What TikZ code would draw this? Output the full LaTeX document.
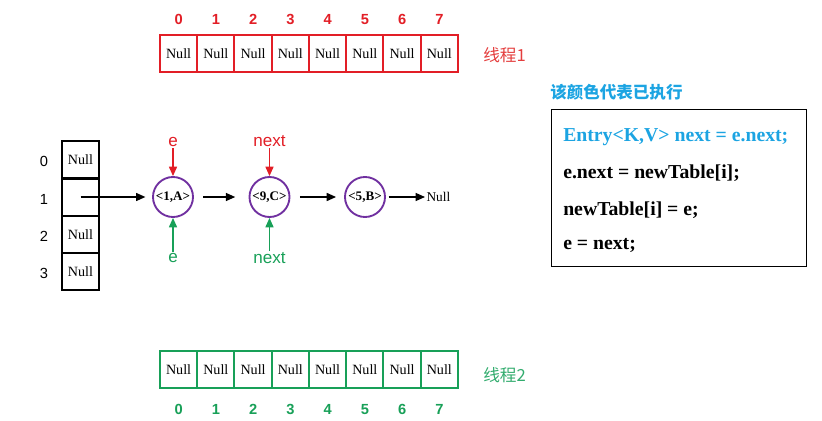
\documentclass[tikz,border=0pt]{standalone}
\usepackage{fontspec}
\setmainfont{Liberation Serif}
\setsansfont{Liberation Sans}
\newfontfamily\cjk{Noto Sans CJK SC}
\usetikzlibrary{arrows.meta}
\definecolor{tred}{RGB}{226,30,38}
\definecolor{tredl}{RGB}{228,62,62}
\definecolor{tgreen}{RGB}{24,160,88}
\definecolor{tgreenl}{RGB}{50,172,110}
\definecolor{tblue}{RGB}{28,164,226}
\definecolor{tpurple}{RGB}{112,48,160}
\tikzset{
  cell/.style={draw, line width=1.5pt, minimum width=27.94pt, minimum height=27.75pt, inner sep=0pt, font=\fontsize{10.6}{12}\selectfont},
  idx/.style={font=\sffamily\bfseries\fontsize{11}{13}\selectfont, inner sep=1pt, anchor=base},
  lidx/.style={font=\sffamily\fontsize{11}{13}\selectfont, inner sep=1pt, anchor=base},
  entry/.style={circle, draw=tpurple, line width=1.4pt, minimum size=30pt, inner sep=0pt, font=\bfseries\fontsize{9.8}{11}\selectfont},
  ptr/.style={font=\sffamily\fontsize{12.8}{15}\selectfont, inner sep=1pt},
  arr/.style={line width=1pt, -{Triangle[length=7pt,width=6pt]}},
  code/.style={anchor=west, inner sep=0pt, font=\bfseries\fontsize{14.8}{17}\selectfont},
  thr/.style={anchor=west, inner sep=0pt, font=\cjk\fontsize{12.5}{14}\selectfont}
}
\begin{document}
\begin{tikzpicture}[x=0.75pt, y=-0.75pt]
\useasboundingbox (0,0) rectangle (822,421);
% top array (thread 1)
\foreach \i in {0,...,7} {
  \node[cell, draw=tred] (t\i) at ({178.6+37.25*\i},53.5) {Null};
  \node[idx, text=tred] (ti\i) at ({178.6+37.25*\i},25) {\i};
}
\node[thr, text=tredl] (thr1) at (483,55) {线程1};
% bottom array (thread 2)
\foreach \i in {0,...,7} {
  \node[cell, draw=tgreen] (b\i) at ({178.6+37.25*\i},369.5) {Null};
  \node[idx, text=tgreen] (bi\i) at ({178.6+37.25*\i},414) {\i};
}
\node[thr, text=tgreenl] (thr2) at (483,375) {线程2};
% left table
\node[cell] (l0) at (80.5,159.5) {Null};
\node[cell] (l1) at (80.5,197) {};
\node[cell] (l2) at (80.5,234.5) {Null};
\node[cell] (l3) at (80.5,271.5) {Null};
\node[lidx] (li0) at (44,166) {0};
\node[lidx] (li1) at (44,204) {1};
\node[lidx] (li2) at (44,241) {2};
\node[lidx] (li3) at (44,278) {3};
% entries
\node[entry] (n1) at (173,197) {<1,A>};
\node[entry] (n2) at (269.5,197) {<9,C>};
\node[entry] (n3) at (365,197) {<5,B>};
\node[anchor=west, inner sep=1pt, font=\fontsize{10}{11}\selectfont] (nul) at (425,197) {Null};
\draw[arr, shorten >=5pt] (l1.center) -- (n1);
\draw[arr, shorten <=7pt, shorten >=10pt] (n1) -- (n2);
\draw[arr, shorten <=7pt, shorten >=6pt] (n2) -- (n3);
\draw[arr, shorten <=2pt] (n3) -- (nul);
% pointers
\node[ptr, text=tred] (e1) at (173,142) {e};
\node[ptr, text=tred] (x1) at (269.5,141) {next};
\node[ptr, text=tgreen] (e2) at (173,258) {e};
\node[ptr, text=tgreen] (x2) at (269.5,258) {next};
\draw[arr, draw=tred, fill=tred] (e1) -- (n1);
\draw[arr, draw=tred, fill=tred] (x1) -- (n2);
\draw[arr, draw=tgreen, fill=tgreen] (e2) -- (n1);
\draw[arr, draw=tgreen, fill=tgreen] (x2) -- (n2);
% code box
\node[anchor=west, inner sep=0pt, text=tblue, font=\cjk\bfseries\fontsize{12.4}{14}\selectfont] (title) at (550,92) {该颜色代表已执行};
\node[draw, line width=1pt, anchor=north west, minimum width=191pt, minimum height=117.5pt, inner sep=0pt] (box) at (551,109) {};
\node[code, text=tblue] (c1) at (563,137) {Entry<K,V> next = e.next;};
\node[code] (c2) at (563,173) {e.next = newTable[i];};
\node[code] (c3) at (563,210) {newTable[i] = e;};
\node[code] (c4) at (563,245) {e = next;};
\end{tikzpicture}
\end{document}
